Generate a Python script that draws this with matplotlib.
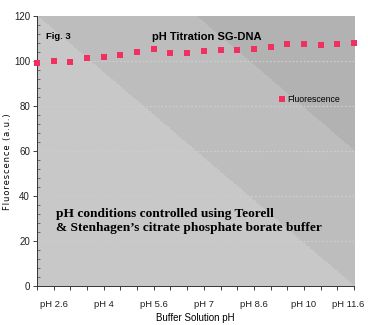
import numpy as np
import matplotlib
matplotlib.use("Agg")
import matplotlib.pyplot as plt
from matplotlib.colors import ListedColormap
from matplotlib.ticker import MultipleLocator

# データ
ph_values = ["2.2", "2.6", "3", "3.6", "4", "4.6", "5", "5.6", "6", "6.6",
             "7", "7.6", "8", "8.6", "9", "9.6", "10", "10.6", "11", "11.6"]
fluorescence = [99.0, 100.0, 99.6, 101.4, 101.8, 102.7, 104.0, 105.2, 103.7, 103.7,
                104.4, 104.8, 104.8, 105.2, 106.2, 107.7, 107.6, 107.1, 107.6, 108.1]
tick_labels = ["pH " + p for p in ph_values]
label_every = 3

narrow = ["Liberation Sans Narrow", "Liberation Sans", "DejaVu Sans"]
plt.rcParams["font.family"] = narrow

fig = plt.figure(figsize=(3.68, 3.25), dpi=100)
ax = fig.add_axes([0.1005, 0.12, 0.8615, 0.831])

x = np.arange(len(ph_values))
ax.set_xlim(0, len(ph_values) - 1)
ax.set_ylim(0, 120)

# 背景のグラデーション（斜めの帯）
gx, gy = np.meshgrid(np.linspace(0, 1, 400), np.linspace(0, 1, 400))
s = gx + gy
bands = np.where(s < 1.0, 0, np.where(s < 1.5, 1, 2))
cmap = ListedColormap(["#c8c8c8", "#bdbdbd", "#b2b2b2"])
ax.imshow(bands, cmap=cmap, origin="lower", extent=[0, 1, 0, 1],
          transform=ax.transAxes, aspect="auto", zorder=0, interpolation="nearest")

# グリッド
for yv in range(20, 120, 20):
    ax.axhline(yv, color="#cdcdcd", linestyle=(0, (1.5, 1.5)), linewidth=0.9, zorder=1)

ax.plot(x, fluorescence, linestyle="none", marker="s", markersize=3.7,
        color="#f0305e", markeredgewidth=0, clip_on=False, zorder=3,
        label="Fluorescence")

# 軸 (ラベルは3つおき、右端のラベルは少し内側に別途描く)
shown = [t if i % label_every == 1 else "" for i, t in enumerate(tick_labels)]
ax.set_xticks(x)
ax.set_xticklabels(shown[:-1] + [""], fontsize=6.8)
ax.annotate(shown[-1], xy=(x[-1], 0), xycoords=ax.get_xaxis_transform(),
            xytext=(-4, -10), textcoords="offset points", ha="center", va="top",
            fontsize=6.8, color="#222222", annotation_clip=False)

ax.yaxis.set_major_locator(MultipleLocator(20))
ax.yaxis.set_minor_locator(MultipleLocator(4))
ax.tick_params(axis="x", direction="out", length=3, width=0.6, pad=7, colors="#222222")
ax.tick_params(axis="y", which="major", direction="out", length=3, width=0.6,
               labelsize=7, pad=2, colors="#222222")
ax.tick_params(axis="y", which="minor", direction="in", length=2, width=0.5, colors="#444444")
for sp in ["top", "right"]:
    ax.spines[sp].set_visible(False)
for sp in ["left", "bottom"]:
    ax.spines[sp].set_linewidth(0.7)
    ax.spines[sp].set_color("#333333")

ylab = "\u200a".join("Fluorescence (a.u.)")
ax.set_ylabel(ylab, fontsize=6, family=["DejaVu Sans"])
ax.yaxis.set_label_coords(-0.078, 0.46)
ax.set_xlabel("Buffer Solution pH", fontsize=7, labelpad=3)

# テキスト
ax.text(0.535, 0.922, "pH Titration SG-DNA", transform=ax.transAxes, ha="center",
        va="center", fontsize=8, fontweight="bold")
ax.text(0.03, 0.922, "Fig. 3", transform=ax.transAxes, ha="left", va="center",
        fontsize=6.8, fontweight="bold")
ax.text(0.06, 0.24, "pH conditions controlled using Teorell\n& Stenhagen\u2019s citrate phosphate borate buffer",
        transform=ax.transAxes, ha="left", va="center", fontsize=9.6, fontweight="bold",
        family=["Liberation Serif", "DejaVu Serif"], linespacing=1.25)

ax.legend(loc="center left", bbox_to_anchor=(0.745, 0.69), frameon=False, fontsize=6.3,
          handletextpad=0.1, handlelength=1.0, borderpad=0, markerscale=1.0)

fig.savefig("out.png", dpi=100)
